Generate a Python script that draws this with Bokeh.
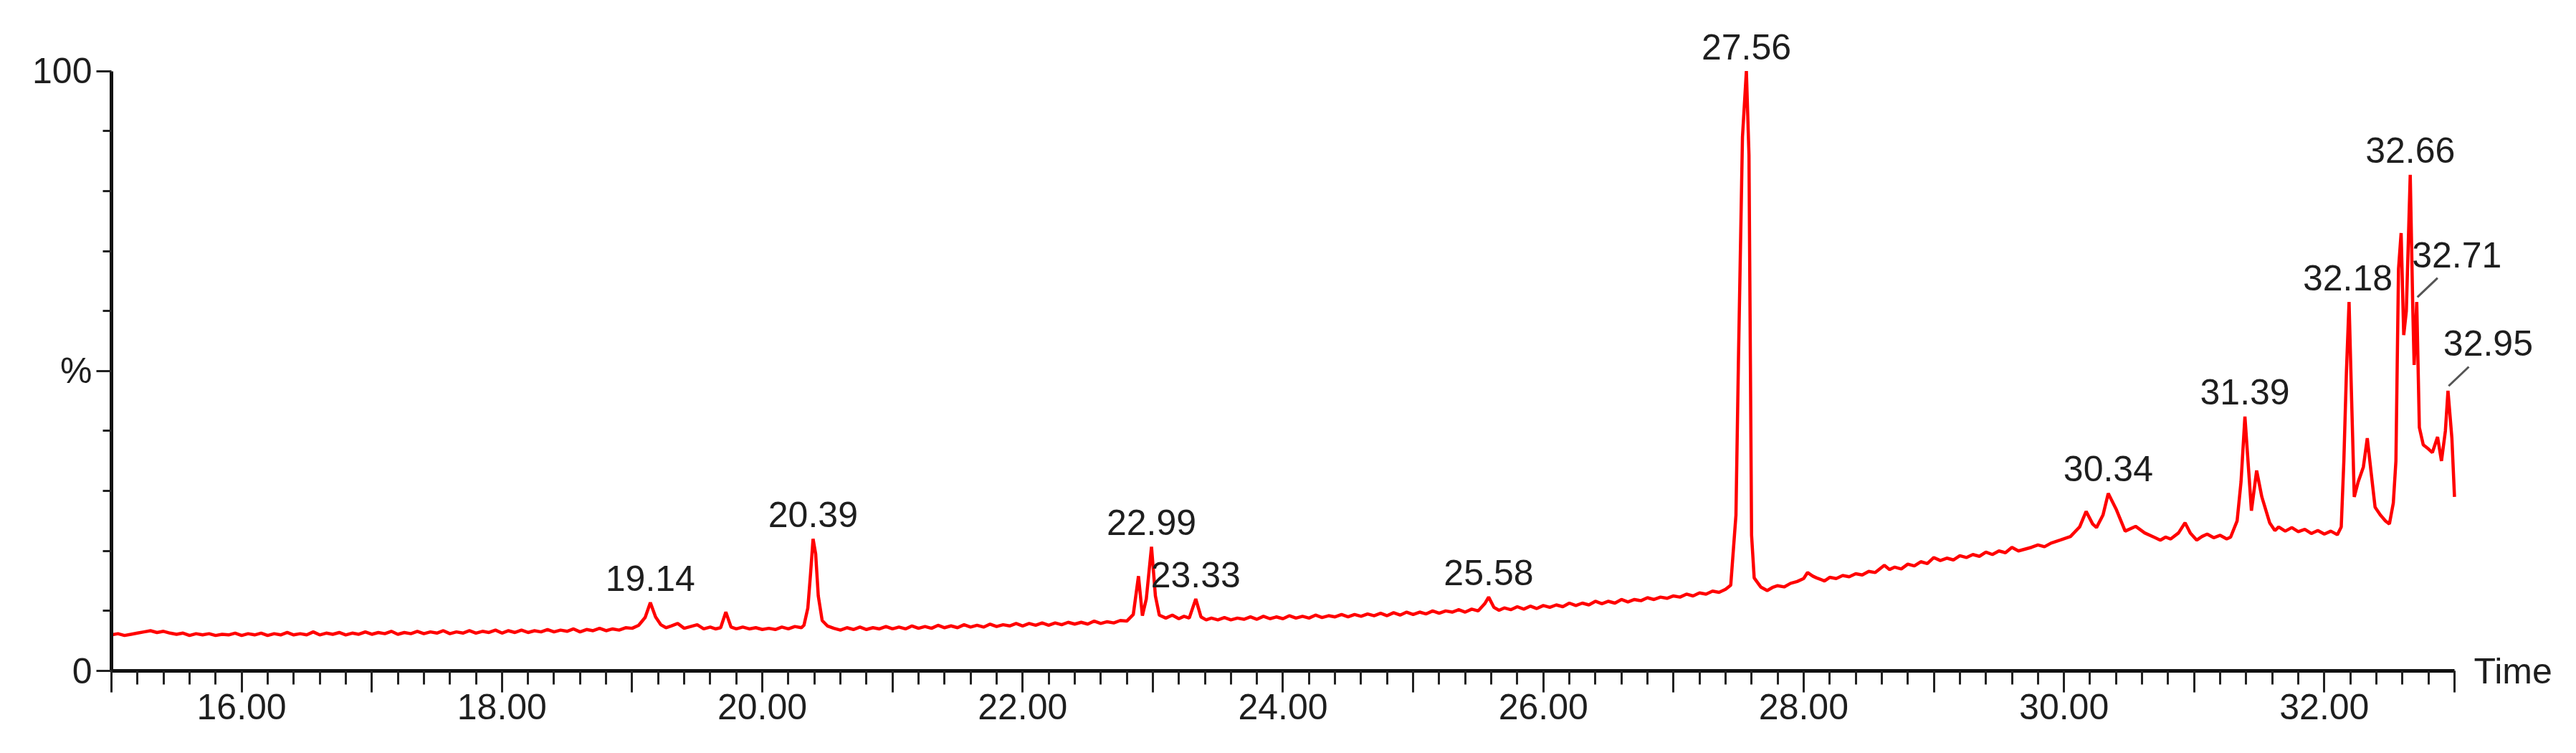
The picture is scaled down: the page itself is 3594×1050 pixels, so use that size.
from bokeh.plotting import figure
from bokeh.models import Range1d, FixedTicker, ColumnDataSource, LinearAxis
from bokeh.embed import file_html
from bokeh.resources import INLINE
from bokeh.core.properties import value

# ---- data (retention time in min, relative abundance in %) ----
rt = [
    15.00, 15.05, 15.10, 15.15, 15.20, 15.25, 15.30, 15.35, 15.40, 15.45,
    15.50, 15.55, 15.60, 15.65, 15.70, 15.75, 15.80, 15.85, 15.90, 15.95,
    16.00, 16.05, 16.10, 16.15, 16.20, 16.25, 16.30, 16.35, 16.40, 16.45,
    16.50, 16.55, 16.60, 16.65, 16.70, 16.75, 16.80, 16.85, 16.90, 16.95,
    17.00, 17.05, 17.10, 17.15, 17.20, 17.25, 17.30, 17.35, 17.40, 17.45,
    17.50, 17.55, 17.60, 17.65, 17.70, 17.75, 17.80, 17.85, 17.90, 17.95,
    18.00, 18.05, 18.10, 18.15, 18.20, 18.25, 18.30, 18.35, 18.40, 18.45,
    18.50, 18.55, 18.60, 18.65, 18.70, 18.75, 18.80, 18.85, 18.90, 18.95,
    19.00, 19.05, 19.10, 19.14, 19.18, 19.22, 19.26, 19.30, 19.35, 19.40,
    19.45, 19.50, 19.55, 19.60, 19.64, 19.68, 19.72, 19.76, 19.80, 19.85,
    19.90, 19.95, 20.00, 20.05, 20.10, 20.15, 20.20, 20.25, 20.30, 20.32,
    20.35, 20.37, 20.39, 20.41, 20.43, 20.46, 20.50, 20.55, 20.60, 20.65,
    20.70, 20.75, 20.80, 20.85, 20.90, 20.95, 21.00, 21.05, 21.10, 21.15,
    21.20, 21.25, 21.30, 21.35, 21.40, 21.45, 21.50, 21.55, 21.60, 21.65,
    21.70, 21.75, 21.80, 21.85, 21.90, 21.95, 22.00, 22.05, 22.10, 22.15,
    22.20, 22.25, 22.30, 22.35, 22.40, 22.45, 22.50, 22.55, 22.60, 22.65,
    22.70, 22.75, 22.80, 22.85, 22.89, 22.92, 22.95, 22.99, 23.02, 23.05,
    23.10, 23.15, 23.20, 23.24, 23.28, 23.33, 23.37, 23.41, 23.45, 23.50,
    23.55, 23.60, 23.65, 23.70, 23.75, 23.80, 23.85, 23.90, 23.95, 24.00,
    24.05, 24.10, 24.15, 24.20, 24.25, 24.30, 24.35, 24.40, 24.45, 24.50,
    24.55, 24.60, 24.65, 24.70, 24.75, 24.80, 24.85, 24.90, 24.95, 25.00,
    25.05, 25.10, 25.15, 25.20, 25.25, 25.30, 25.35, 25.40, 25.45, 25.50,
    25.55, 25.58, 25.62, 25.66, 25.70, 25.75, 25.80, 25.85, 25.90, 25.95,
    26.00, 26.05, 26.10, 26.15, 26.20, 26.25, 26.30, 26.35, 26.40, 26.45,
    26.50, 26.55, 26.60, 26.65, 26.70, 26.75, 26.80, 26.85, 26.90, 26.95,
    27.00, 27.05, 27.10, 27.15, 27.20, 27.25, 27.30, 27.35, 27.40, 27.44,
    27.48, 27.50, 27.53, 27.56, 27.58, 27.60, 27.62, 27.67, 27.72, 27.76,
    27.80, 27.85, 27.90, 27.95, 28.00, 28.03, 28.07, 28.10, 28.16, 28.20,
    28.25, 28.30, 28.35, 28.40, 28.45, 28.50, 28.55, 28.62, 28.66, 28.70,
    28.75, 28.80, 28.85, 28.90, 28.95, 29.00, 29.05, 29.10, 29.15, 29.20,
    29.25, 29.30, 29.35, 29.40, 29.45, 29.50, 29.55, 29.60, 29.65, 29.70,
    29.75, 29.80, 29.85, 29.90, 29.97, 30.05, 30.12, 30.17, 30.22, 30.25,
    30.30, 30.34, 30.40, 30.47, 30.55, 30.62, 30.70, 30.74, 30.78, 30.82,
    30.88, 30.93, 30.97, 31.02, 31.06, 31.10, 31.15, 31.20, 31.25, 31.28,
    31.33, 31.36, 31.39, 31.42, 31.44, 31.48, 31.52, 31.58, 31.62, 31.65,
    31.70, 31.75, 31.80, 31.85, 31.90, 31.95, 32.00, 32.05, 32.10, 32.13,
    32.15, 32.17, 32.19, 32.21, 32.23, 32.26, 32.30, 32.33, 32.36, 32.39,
    32.43, 32.47, 32.50, 32.53, 32.55, 32.57, 32.59, 32.61, 32.63, 32.66,
    32.68, 32.69, 32.71, 32.73, 32.76, 32.80, 32.83, 32.87, 32.90, 32.93,
    32.95, 32.98, 33.00,
]
abundance = [
    6.0, 6.2, 5.9, 6.1, 6.3, 6.5, 6.7, 6.4, 6.6, 6.3,
    6.1, 6.3, 5.9, 6.2, 6.0, 6.2, 5.9, 6.1, 6.0, 6.3,
    5.9, 6.2, 6.0, 6.3, 5.9, 6.2, 6.0, 6.4, 6.0, 6.2,
    6.0, 6.5, 6.0, 6.3, 6.1, 6.4, 6.0, 6.3, 6.1, 6.5,
    6.1, 6.4, 6.2, 6.6, 6.1, 6.4, 6.2, 6.6, 6.2, 6.5,
    6.3, 6.7, 6.2, 6.5, 6.3, 6.7, 6.3, 6.6, 6.4, 6.8,
    6.3, 6.7, 6.4, 6.8, 6.4, 6.7, 6.5, 6.9, 6.5, 6.8,
    6.6, 7.0, 6.5, 6.9, 6.7, 7.1, 6.7, 7.0, 6.8, 7.2,
    7.1, 7.6, 8.9, 11.4, 9.0, 7.7, 7.2, 7.5, 7.9, 7.1,
    7.4, 7.7, 7.0, 7.3, 7.0, 7.2, 9.8, 7.3, 7.0, 7.3,
    7.0, 7.2, 6.9, 7.1, 6.9, 7.3, 7.0, 7.4, 7.2, 7.6,
    10.5, 16.0, 22.0, 19.5, 12.5, 8.4, 7.5, 7.1, 6.8, 7.2,
    6.9, 7.3, 6.9, 7.2, 7.0, 7.4, 7.0, 7.3, 7.0, 7.5,
    7.1, 7.4, 7.1, 7.6, 7.2, 7.5, 7.2, 7.7, 7.3, 7.6,
    7.3, 7.8, 7.4, 7.7, 7.5, 7.9, 7.5, 7.9, 7.6, 8.0,
    7.6, 8.0, 7.7, 8.1, 7.8, 8.1, 7.8, 8.3, 7.9, 8.2,
    8.0, 8.4, 8.3, 9.4, 15.8, 9.2, 12.0, 20.7, 12.5, 9.3,
    8.8, 9.3, 8.7, 9.1, 8.8, 12.0, 9.0, 8.5, 8.8, 8.5,
    8.9, 8.5, 8.8, 8.6, 9.0, 8.6, 9.1, 8.7, 9.0, 8.7,
    9.2, 8.8, 9.1, 8.8, 9.3, 8.9, 9.2, 9.0, 9.4, 9.0,
    9.4, 9.1, 9.5, 9.2, 9.6, 9.2, 9.7, 9.3, 9.8, 9.4,
    9.8, 9.5, 10.0, 9.6, 10.0, 9.8, 10.2, 9.8, 10.3, 10.0,
    11.2, 12.3, 10.6, 10.1, 10.5, 10.2, 10.7, 10.3, 10.8, 10.4,
    10.9, 10.6, 11.0, 10.7, 11.3, 10.9, 11.3, 11.0, 11.6, 11.2,
    11.6, 11.3, 11.9, 11.5, 11.9, 11.7, 12.2, 11.9, 12.3, 12.1,
    12.5, 12.3, 12.8, 12.5, 13.0, 12.8, 13.3, 13.1, 13.6, 14.3,
    26.0, 53.0, 89.0, 100.0, 86.0, 22.6, 15.5, 14.0, 13.4, 13.9,
    14.2, 14.0, 14.6, 14.9, 15.4, 16.4, 15.8, 15.5, 15.0, 15.6,
    15.4, 15.9, 15.7, 16.2, 16.0, 16.6, 16.4, 17.6, 16.9, 17.3,
    17.0, 17.8, 17.5, 18.2, 17.9, 18.9, 18.4, 18.8, 18.5, 19.2,
    18.9, 19.4, 19.1, 19.8, 19.4, 20.0, 19.7, 20.6, 20.0, 20.3,
    20.6, 21.0, 20.7, 21.3, 21.8, 22.4, 24.0, 26.6, 24.5, 23.9,
    26.0, 29.6, 27.0, 23.3, 24.1, 23.0, 22.2, 21.8, 22.3, 22.0,
    23.0, 24.7, 23.0, 21.8, 22.4, 22.8, 22.2, 22.6, 22.0, 22.3,
    25.0, 31.5, 42.4, 33.0, 26.7, 33.4, 29.0, 24.7, 23.4, 24.0,
    23.3, 23.9, 23.2, 23.6, 22.9, 23.4, 22.8, 23.3, 22.7, 24.0,
    35.0, 50.0, 61.5, 45.0, 29.0, 31.5, 34.0, 38.8, 33.0, 27.3,
    26.0, 25.0, 24.5, 28.0, 35.0, 67.0, 73.0, 56.0, 60.0, 82.7,
    60.0, 51.0, 61.5, 40.6, 37.7, 37.0, 36.4, 39.0, 35.0, 40.0,
    46.7, 38.8, 29.0,
]

# annotated peaks
peak_rt = [19.14, 20.39, 22.99, 23.33, 25.58, 27.56, 30.34, 31.39, 32.18, 32.66, 32.71, 32.95]
peak_height = [11.4, 22.0, 20.7, 12.0, 12.3, 100.0, 29.6, 42.4, 61.5, 82.7, 61.5, 46.7]
peak_text = ["19.14", "20.39", "22.99", "23.33", "25.58", "27.56", "30.34", "31.39",
             "32.18", "32.66", "32.71", "32.95"]
# peaks whose labels are pulled aside with a leader line
lead_rt = [32.71, 32.95]
lead_height = [61.5, 46.7]

x_major = [15, 16, 17, 18, 19, 20, 21, 22, 23, 24, 25, 26, 27, 28, 29, 30, 31, 32, 33]
x_tick_labels = {16: "16.00", 18: "18.00", 20: "20.00", 22: "22.00", 24: "24.00",
                 26: "26.00", 28: "28.00", 30: "30.00", 32: "32.00"}
y_major = [0, 50, 100]
y_minor = [10, 20, 30, 40, 60, 70, 80, 90]
y_tick_labels = {0: "0", 50: "%", 100: "100"}
x_label = "Time"

FONT = "Liberation Sans"
FSIZE = "50px"
TXT = "#1e1e1e"

# frame extends a little beyond the axes so that labels are not cut off
p = figure(width=3578, height=1034, output_backend="svg", toolbar_location=None,
           x_range=Range1d(15, 33.76), y_range=Range1d(0, 110.6),
           min_border_left=155, min_border_right=16, min_border_top=10, min_border_bottom=99)
p.outline_line_color = None
p.xgrid.visible = False
p.ygrid.visible = False
p.background_fill_color = "white"
p.border_fill_color = "white"

# signal trace
p.line(rt, abundance, line_color="#ff0000", line_width=4.5)

# peak labels
normal = [i for i in range(len(peak_text)) if peak_rt[i] not in lead_rt]
side = [i for i in range(len(peak_text)) if peak_rt[i] in lead_rt]
src_n = ColumnDataSource(dict(x=[peak_rt[i] for i in normal], y=[peak_height[i] for i in normal],
                              t=[peak_text[i] for i in normal]))
src_s = ColumnDataSource(dict(x=[peak_rt[i] for i in side], y=[peak_height[i] for i in side],
                              t=[peak_text[i] for i in side]))
p.text(x="x", y="y", text="t", source=src_n, text_font=value(FONT), text_font_size=FSIZE,
       text_color=TXT, text_align="center", text_baseline="middle", y_offset=-34)
p.text(x="x", y="y", text="t", source=src_s, text_font=value(FONT), text_font_size=FSIZE,
       text_color=TXT, text_align="center", text_baseline="middle", x_offset=56, y_offset=-66)
# leader lines
p.segment(x0=[r + 0.005 for r in lead_rt], y0=[h + 0.8 for h in lead_height],
          x1=[r + 0.16 for r in lead_rt], y1=[h + 4.0 for h in lead_height],
          line_color="#555555", line_width=3)

# x axis
xa = p.xaxis[0]
xa.bounds = (15, 33)
xa.ticker = FixedTicker(ticks=x_major, minor_ticks=[round(15 + 0.2 * i, 1) for i in range(91)])
overrides = {k: "" for k in x_major}
overrides.update(x_tick_labels)
xa.major_label_overrides = overrides
xa.axis_line_width = 5
xa.axis_line_color = "#111111"
xa.major_tick_line_width = 3
xa.minor_tick_line_width = 3
xa.major_tick_line_color = "#222222"
xa.minor_tick_line_color = "#222222"
xa.major_tick_out = 30
xa.major_tick_in = 0
xa.minor_tick_out = 19
xa.minor_tick_in = 0
xa.major_label_standoff = 2
xa.major_label_text_font = FONT
xa.major_label_text_font_size = FSIZE
xa.major_label_text_color = TXT

# y axis
ya = p.yaxis[0]
ya.bounds = (0, 100)
ya.ticker = FixedTicker(ticks=y_major, minor_ticks=y_minor)
ya.major_label_overrides = y_tick_labels
ya.axis_line_width = 5
ya.axis_line_color = "#111111"
ya.major_tick_line_width = 3
ya.minor_tick_line_width = 3
ya.major_tick_line_color = "#222222"
ya.minor_tick_line_color = "#222222"
ya.major_tick_out = 21
ya.major_tick_in = 0
ya.minor_tick_out = 12
ya.minor_tick_in = 0
ya.major_label_standoff = 6
ya.major_label_text_font = FONT
ya.major_label_text_font_size = FSIZE
ya.major_label_text_color = TXT

# "Time" beside the end of the x axis (a label-only axis on the right)
ra = LinearAxis(ticker=FixedTicker(ticks=[0]), major_label_overrides={0: x_label},
                axis_line_color=None, major_tick_line_color=None, minor_tick_line_color=None,
                major_tick_in=0, major_tick_out=0, minor_tick_in=0, minor_tick_out=0,
                major_label_standoff=-111, major_label_text_font=FONT,
                major_label_text_font_size=FSIZE, major_label_text_color=TXT)
p.add_layout(ra, "right")

open("out.html", "w").write(file_html(p, INLINE))
